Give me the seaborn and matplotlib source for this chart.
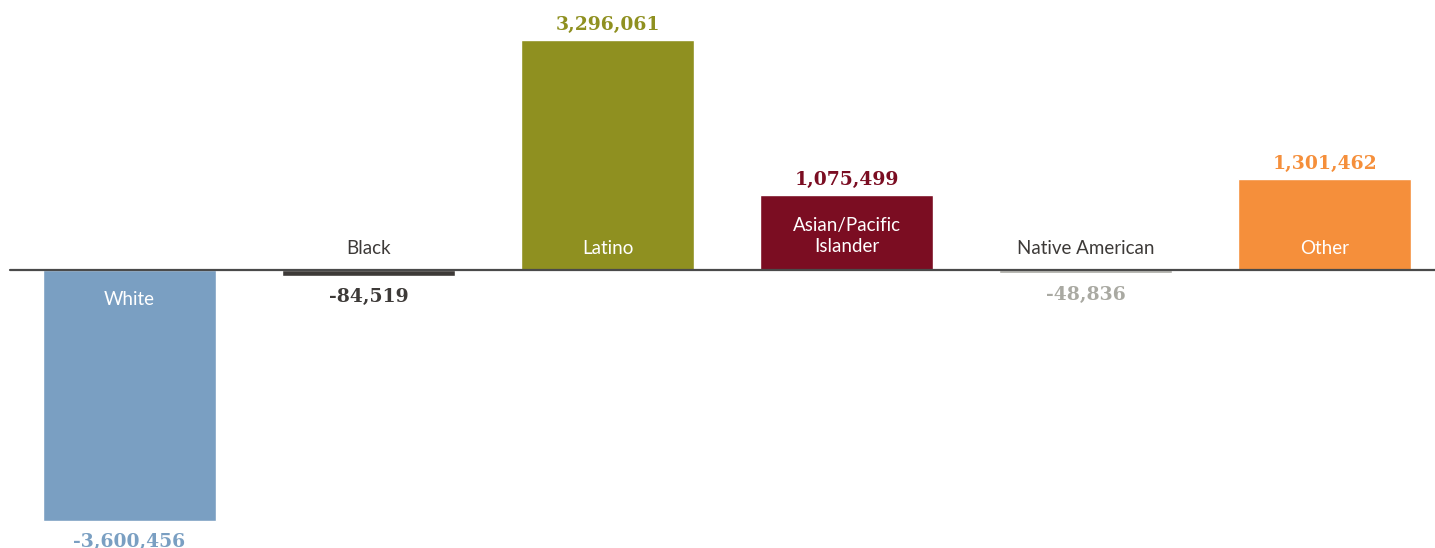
import matplotlib
matplotlib.use("Agg")
import matplotlib.pyplot as plt
import seaborn as sns
import pandas as pd

categories = ["White", "Black", "Latino", "Asian/Pacific\nIslander", "Native American", "Other"]
values = [-3600456, -84519, 3296061, 1075499, -48836, 1301462]
colors = ["#7a9fc2", "#3d3a38", "#8f9020", "#7b0d22", "#a9a9a2", "#f58f3b"]
label_inside = [True, False, True, True, False, True]

df = pd.DataFrame({"cat": categories, "val": values})

sns.set_theme(style="white")
fig = plt.figure(figsize=(14.35, 5.48), dpi=100)
ax = fig.add_axes([0, 0, 1, 1])

sns.barplot(data=df, x="cat", y="val", hue="cat", palette=colors, legend=False,
            width=0.724, saturation=1, ax=ax)

ax.set_xlim(-0.542, 5.462)
ax.set_ylim(-3989300, 3874500)
ax.axis("off")
ax.axhline(0, xmin=0.007, xmax=1, color="#4a4a4a", lw=1.6, zorder=5)

for i, (c, v, col, inside) in enumerate(zip(categories, values, colors, label_inside)):
    # value label
    if v >= 0:
        ax.annotate(f"{v:,}", (i, v), xytext=(0, 11), textcoords="offset points",
                    ha="center", va="center", fontsize=13.5, fontweight="heavy",
                    family="DejaVu Serif", color=col)
    else:
        ax.annotate(f"{v:,}", (i, v), xytext=(0, -15.5), textcoords="offset points",
                    ha="center", va="center", fontsize=13.5, fontweight="heavy",
                    family="DejaVu Serif", color=col)
    # category label
    tcol = "white" if inside else "#3d3a38"
    if v >= 0 or not inside:
        dy = 24.5 if "\n" in c else 15.5
    else:
        dy = -21
    ax.annotate(c, (i, 0), xytext=(0, dy), textcoords="offset points",
                ha="center", va="center", fontsize=13.5, family="Lato",
                color=tcol, linespacing=1.25)

fig.savefig("out.png", dpi=100)
